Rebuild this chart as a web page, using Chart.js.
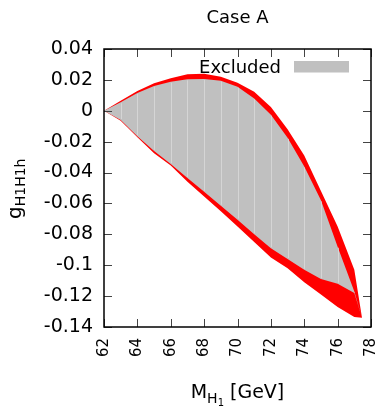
<!DOCTYPE html>
<html>
<head>
<meta charset="utf-8">
<script src="https://cdn.jsdelivr.net/npm/chart.js@4.4.0/dist/chart.umd.min.js"></script>
<style>
body { margin: 0; background: #fff; }
#wrap { width: 379px; height: 406px; }
</style>
</head>
<body>
<div id="wrap"><canvas id="caseChart"></canvas></div>
<script>
// data (M_H1 in GeV, coupling values)
const massValues = [62, 63, 64, 65, 66, 67, 68, 69, 70, 71, 72, 73, 74, 75, 76, 77, 77.46];
const excludedUpper = [0, 0.0055, 0.0115, 0.016, 0.0188, 0.0204, 0.0206, 0.0195, 0.0156, 0.008, -0.0025, -0.0175, -0.036, -0.058, -0.088, -0.117, -0.134];
const excludedLower = [0, -0.006, -0.0165, -0.026, -0.0345, -0.0435, -0.0525, -0.0615, -0.0705, -0.080, -0.089, -0.096, -0.103, -0.109, -0.112, -0.118, -0.134];
const allowedUpper = [0, 0.0065, 0.0128, 0.0178, 0.021, 0.0236, 0.024, 0.022, 0.0182, 0.0123, 0.0024, -0.012, -0.029, -0.052, -0.075, -0.103, -0.134];
const allowedLower = [0, -0.0065, -0.0172, -0.0275, -0.0355, -0.046, -0.0555, -0.065, -0.075, -0.085, -0.095, -0.102, -0.111, -0.119, -0.127, -0.1335, -0.134];

const xTickValues = [62, 64, 66, 68, 70, 72, 74, 76, 78];
const yTickValues = [-0.14, -0.12, -0.1, -0.08, -0.06, -0.04, -0.02, 0, 0.02, 0.04];
const yTickLabels = ['-0.14', '-0.12', '-0.1', '-0.08', '-0.06', '-0.04', '-0.02', '0', '0.02', '0.04'];

const titleText = 'Case A';
const legendText = 'Excluded';
const fontName = '"DejaVu Sans", sans-serif';

function toPoints(ys) {
    return massValues.map((m, i) => ({ x: m, y: ys[i] }));
}

/*
gnuplot look: border, inward ticks on all four sides,
title, legend and axis titles with subscripts
*/
const gnuplotFrame = {
    id: 'gnuplotFrame',
    afterDatasetsDraw(chart) {
        const ctx = chart.ctx;
        const xs = chart.scales.x;
        const ys = chart.scales.y;
        // light stripes where gnuplot polygons meet
        ctx.save();
        ctx.strokeStyle = 'rgba(222,222,222,0.7)';
        ctx.lineWidth = 1;
        for (let i = 1; i < massValues.length - 1; i++) {
            const px = Math.round(xs.getPixelForValue(massValues[i])) + 0.5;
            ctx.beginPath();
            ctx.moveTo(px, ys.getPixelForValue(excludedUpper[i]) + 1);
            ctx.lineTo(px, ys.getPixelForValue(excludedLower[i]) - 1);
            ctx.stroke();
        }
        ctx.restore();
    },
    afterDraw(chart) {
        const ctx = chart.ctx;
        const area = chart.chartArea;
        const xs = chart.scales.x;
        const ys = chart.scales.y;
        ctx.save();

        // inward ticks
        ctx.strokeStyle = '#444';
        ctx.lineWidth = 1;
        const tl = 8;
        xTickValues.forEach(v => {
            const px = Math.round(xs.getPixelForValue(v)) + 0.5;
            ctx.beginPath();
            ctx.moveTo(px, area.bottom); ctx.lineTo(px, area.bottom - tl);
            ctx.moveTo(px, area.top); ctx.lineTo(px, area.top + tl);
            ctx.stroke();
        });
        yTickValues.forEach(v => {
            const py = Math.round(ys.getPixelForValue(v)) + 0.5;
            ctx.beginPath();
            ctx.moveTo(area.left, py); ctx.lineTo(area.left + tl, py);
            ctx.moveTo(area.right, py); ctx.lineTo(area.right - tl, py);
            ctx.stroke();
        });

        // border
        ctx.strokeStyle = '#000';
        ctx.lineWidth = 1.5;
        ctx.strokeRect(area.left, area.top, area.right - area.left, area.bottom - area.top);

        // title
        ctx.fillStyle = '#000';
        ctx.font = '18px ' + fontName;
        ctx.textAlign = 'center';
        ctx.textBaseline = 'alphabetic';
        ctx.fillText(titleText, (area.left + area.right) / 2, 23);

        // legend
        ctx.textAlign = 'right';
        ctx.fillText(legendText, area.right - 90, area.top + 23.5);
        ctx.fillStyle = '#c0c0c0';
        ctx.fillRect(area.right - 77, area.top + 12, 55, 11.5);

        // x axis title: M_{H_1} [GeV]
        ctx.fillStyle = '#000';
        ctx.textAlign = 'left';
        const big = '19px ' + fontName;
        const mid = '14px ' + fontName;
        const small = '10px ' + fontName;
        ctx.font = big; const wM = ctx.measureText('M').width;
        ctx.font = mid; const wH = ctx.measureText('H').width;
        ctx.font = small; const w1 = ctx.measureText('1').width;
        ctx.font = big; const wRest = ctx.measureText(' [GeV]').width;
        let x0 = (area.left + area.right) / 2 - (wM + wH + w1 + wRest) / 2;
        const base = 398;
        ctx.font = big; ctx.fillText('M', x0, base); x0 += wM;
        ctx.font = mid; ctx.fillText('H', x0, base + 5); x0 += wH;
        ctx.font = small; ctx.fillText('1', x0, base + 8); x0 += w1;
        ctx.font = big; ctx.fillText(' [GeV]', x0, base);

        // y axis title: g_{H1H1h}
        ctx.translate(21, 219);
        ctx.rotate(-Math.PI / 2);
        ctx.font = '20px ' + fontName;
        ctx.fillText('g', 0, 0);
        const wg = ctx.measureText('g').width;
        ctx.font = mid;
        ctx.fillText('H1H1h', wg, 4);
        ctx.restore();
    }
};

const ctx = document.getElementById('caseChart');
new Chart(ctx, {
    type: 'line',
    data: {
        datasets: [
            { data: toPoints(excludedUpper), fill: 1, backgroundColor: '#c0c0c0', borderWidth: 0, pointRadius: 0 },
            { data: toPoints(excludedLower), fill: false, borderWidth: 0, pointRadius: 0 },
            { data: toPoints(allowedUpper), fill: 3, backgroundColor: '#ff0000', borderWidth: 0, pointRadius: 0 },
            { data: toPoints(allowedLower), fill: false, borderWidth: 0, pointRadius: 0 }
        ]
    },
    options: {
        responsive: true,
        maintainAspectRatio: false,
        animation: false,
        layout: { padding: { left: 0, right: 8, top: 49, bottom: 0 } },
        plugins: {
            legend: { display: false },
            tooltip: { enabled: false },
            title: { display: false }
        },
        scales: {
            x: {
                type: 'linear',
                min: 62,
                max: 78,
                afterBuildTicks: (scale) => { scale.ticks = xTickValues.map(v => ({ value: v })); },
                afterFit: (scale) => {
                    scale.height = 79;
                    scale.paddingLeft = 0;
                    scale.paddingRight = 0;
                },
                grid: { display: false, drawTicks: false },
                border: { display: false },
                ticks: {
                    autoSkip: false,
                    minRotation: 90,
                    maxRotation: 90,
                    padding: 11,
                    color: '#000',
                    font: { family: fontName, size: 15, lineHeight: 1 }
                }
            },
            y: {
                min: -0.14,
                max: 0.04,
                afterBuildTicks: (scale) => { scale.ticks = yTickValues.map(v => ({ value: v })); },
                afterFit: (scale) => {
                    scale.width = 104;
                    scale.paddingTop = 0;
                    scale.paddingBottom = 0;
                },
                grid: { display: false, drawTicks: false },
                border: { display: false },
                ticks: {
                    autoSkip: false,
                    padding: 11,
                    color: '#000',
                    font: { family: fontName, size: 19, lineHeight: 1 },
                    callback: (value, index) => yTickLabels[index]
                }
            }
        }
    },
    plugins: [gnuplotFrame]
});
</script>
</body>
</html>
